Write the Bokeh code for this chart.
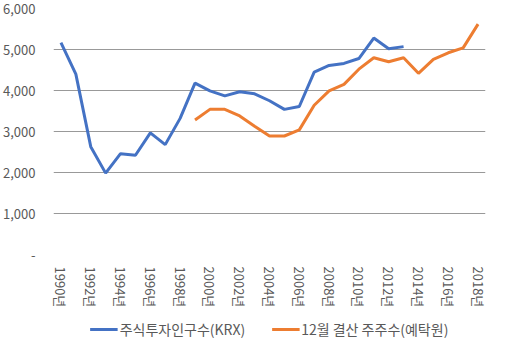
from bokeh.plotting import figure
from bokeh.layouts import column
from bokeh.models import Legend, LegendItem, FixedTicker, NumeralTickFormatter, Range1d
from bokeh.embed import file_html
from bokeh.resources import INLINE

# Data
years_krx = list(range(1990, 2014))
krx = [5170, 4400, 2630, 1985, 2460, 2420, 2965, 2680, 3320, 4180,
       3990, 3870, 3970, 3920, 3750, 3540, 3610, 4450, 4610, 4660,
       4780, 5280, 5020, 5070]
years_ksd = list(range(1999, 2019))
ksd = [3280, 3540, 3540, 3380, 3130, 2890, 2890, 3040, 3640, 3990,
       4150, 4520, 4800, 4700, 4800, 4420, 4760, 4920, 5040, 5620]
tick_years = [1990, 1992, 1994, 1996, 1998, 2000, 2002, 2004, 2006, 2008,
              2010, 2012, 2014, 2016, 2018]
tick_labels = ["1990년", "1992년", "1994년", "1996년", "1998년", "2000년", "2002년",
               "2004년", "2006년", "2008년", "2010년", "2012년", "2014년", "2016년", "2018년"]
y_ticks = [0, 1000, 2000, 3000, 4000, 5000, 6000]
series_names = ["주식투자인구수(KRX)", "12월 결산 주주수(예탁원)"]
colors = ["#4472C4", "#ED7D31"]

FONT = "Noto Sans CJK KR"
GRAY = "#595959"

p = figure(width=489, height=319, output_backend="svg", toolbar_location=None,
           x_range=Range1d(1989.5, 2018.5), y_range=Range1d(0, 6000),
           min_border_left=49, min_border_right=4, min_border_top=8, min_border_bottom=65)
p.outline_line_color = None
p.border_fill_color = "white"
p.background_fill_color = "white"

p.line(years_krx, krx, line_color=colors[0], line_width=3)
p.line(years_ksd, ksd, line_color=colors[1], line_width=3)

yt = FixedTicker(ticks=y_ticks)
p.xgrid.grid_line_color = None
p.ygrid.ticker = yt
p.ygrid.grid_line_color = "#999999"
p.ygrid.grid_line_width = 1

p.yaxis.ticker = yt
p.yaxis.formatter = NumeralTickFormatter(format="0,0")
p.yaxis.major_label_overrides = {0: "-"}
p.xaxis.ticker = FixedTicker(ticks=tick_years)
p.xaxis.major_label_overrides = {y: l for y, l in zip(tick_years, tick_labels)}
p.xaxis.major_label_orientation = "vertical"

for ax in (p.xaxis, p.yaxis):
    ax.axis_line_color = None
    ax.major_tick_line_color = None
    ax.minor_tick_line_color = None
    ax.major_tick_out = 0
    ax.major_tick_in = 0
    ax.minor_tick_out = 0
    ax.minor_tick_in = 0
    ax.axis_label_standoff = 0
    ax.major_label_text_font = FONT
    ax.major_label_text_color = GRAY
    ax.major_label_text_font_size = "13px"
p.yaxis.major_label_standoff = 18
p.xaxis.major_label_standoff = 12

# legend strip below the chart (series drawn out of view, only their legend shows)
lg = figure(width=489, height=20, output_backend="svg", toolbar_location=None,
            x_range=Range1d(0, 1), y_range=Range1d(0, 1),
            x_axis_type=None, y_axis_type=None, min_border=0)
lg.outline_line_color = None
lg.grid.visible = False
d1 = lg.line(years_krx, krx, line_color=colors[0], line_width=3)
d2 = lg.line(years_ksd, ksd, line_color=colors[1], line_width=3)
legend = Legend(items=[LegendItem(label=series_names[0], renderers=[d1]),
                       LegendItem(label=series_names[1], renderers=[d2])],
                orientation="horizontal", location="center",
                label_text_font=FONT, label_text_font_size="14px",
                label_text_color=GRAY, glyph_width=28, label_standoff=2,
                spacing=26, padding=0, margin=0, border_line_color=None,
                background_fill_alpha=0, label_height=16, glyph_height=16)
lg.add_layout(legend, "center")

layout = column(p, lg, spacing=0)
open("out.html", "w").write(file_html(layout, INLINE))
